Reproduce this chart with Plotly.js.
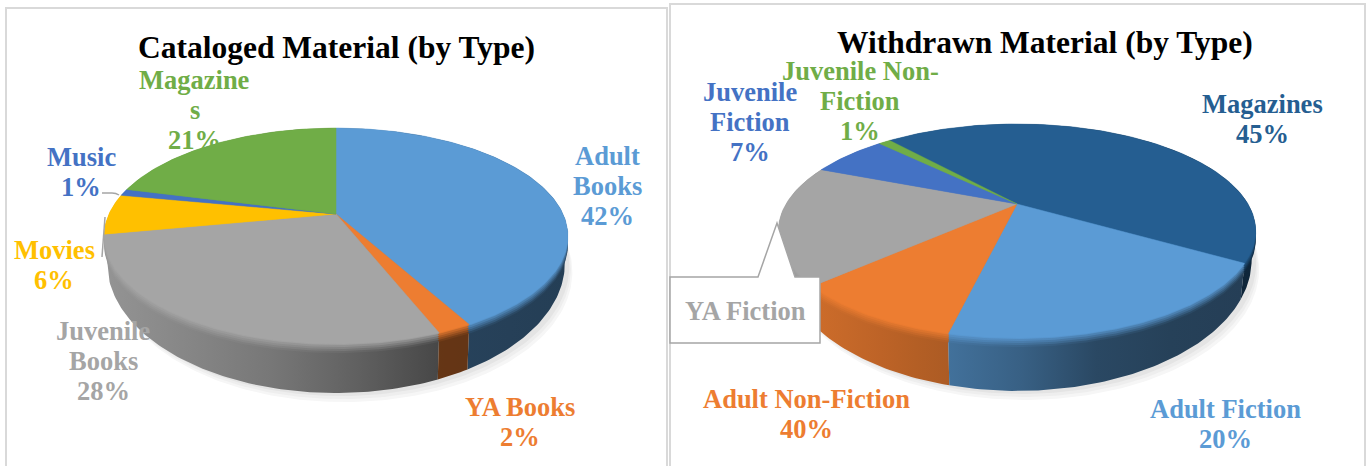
<!DOCTYPE html>
<html>
<head>
<meta charset="utf-8">
<script src="https://cdn.plot.ly/plotly-3.0.1.min.js"></script>
<style>html,body{margin:0;padding:0;background:#fff}#chart{width:1372px;height:466px}</style>
</head>
<body>
<div id="chart"></div>
<script>
// ---- data ----
const catalogedCategories = ["Adult Books", "YA Books", "Juvenile Books", "Movies", "Music", "Magazines"];
const catalogedValues = [42, 2, 28, 6, 1, 21];
const catalogedColors = ["#5b9bd5", "#ed7d31", "#a5a5a5", "#ffc000", "#4472c4", "#70ad47"];

const withdrawnCategories = ["Magazines", "Adult Fiction", "Adult Non-Fiction", "YA Fiction", "Juvenile Fiction", "Juvenile Non-Fiction"];
const withdrawnValues = [45, 20, 9.5, 18, 6.5, 1];
const withdrawnColors = ["#255e91", "#5b9bd5", "#ed7d31", "#a5a5a5", "#4472c4", "#70ad47"];

// ---- 3-D look of each pie (pixel-equal axes) ----
const leftPie = {cx: 336, cy: 214, rx: 227, ry: 103.5, k: 0.204, midY: 236, wallSide: 27, wallGrow: 0.204, wallX: 0.987, start: 0};
const rightPie = {cx: 1017, cy: 204, rx: 231, ry: 100.2, k: 0.252, midY: 231, wallSide: 29, wallGrow: 0.224, wallX: 0.983, start: -41};

const bevelSteps = [9, 7, 5, 3, 1];
const shadeStops = [[0, 0.9], [0.45, 0.68], [0.7, 0.43], [1, 0.4]];

function hex(c) { return [1, 3, 5].map(i => parseInt(c.substr(i, 2), 16)); }
function rgb(a) { return "rgb(" + a.map(v => Math.max(0, Math.min(255, Math.round(v)))).join(",") + ")"; }
function shadeAt(t) {
  t = Math.max(0, Math.min(1, t));
  for (let i = 1; i < shadeStops.length; i++) {
    if (t <= shadeStops[i][0]) {
      const a = shadeStops[i - 1], b = shadeStops[i];
      return a[1] + (b[1] - a[1]) * (t - a[0]) / (b[0] - a[0]);
    }
  }
  return 0.4;
}
function project(p, deg, d) {
  const th = deg * Math.PI / 180, u = Math.sin(th), v = Math.cos(th), w = 1 + p.k * v;
  return [p.cx + p.rx * u / w, p.cy - p.ry * v / w + d];
}
function arc(p, a0, a1, d) {
  const out = [], n = Math.max(2, Math.ceil(Math.abs(a1 - a0)));
  for (let i = 0; i <= n; i++) out.push(project(p, a0 + (a1 - a0) * i / n, d));
  return out;
}
// lower edge of the wall: seen in perspective it is narrower and deeper toward the viewer
function lowerArc(p, a0, a1, extra) {
  return arc(p, a0, a1, 0).map(q => [
    p.cx + (q[0] - p.cx) * p.wallX,
    q[1] + p.wallSide + (q[1] - p.midY) * p.wallGrow + (extra || 0)
  ]);
}
function gradient(p, color, xs, mix) {
  const lo = Math.min(...xs), hi = Math.max(...xs), base = hex(color), hw = 1 / (2 * p.rx * 1.03), left = p.cx - p.rx * 1.03;
  const scale = [0, 0.25, 0.5, 0.75, 1].map(f => {
    const s = shadeAt((lo + (hi - lo) * f - left) * hw), m = 1 - mix * (1 - s);
    return [f, rgb(base.map(c => c * m))];
  });
  return {type: "horizontal", start: lo, stop: hi, colorscale: scale};
}
function polyTrace(pts, name, style) {
  return Object.assign({
    type: "scatter", mode: "lines", name: name, showlegend: false, hoverinfo: "name",
    x: pts.map(q => q[0]), y: pts.map(q => q[1]), fill: "toself",
    line: {width: 0}
  }, style);
}
function pieTraces(p, names, values, colors) {
  const total = values.reduce((a, b) => a + b, 0), sl = [];
  let a = p.start;
  values.forEach((val, i) => {
    const b = a + val / total * 360;
    sl.push({a: a, b: b, name: names[i], color: colors[i]});
    a = b;
  });
  const traces = [];
  // soft ground shadow
  [[9, "#f6f6f6"], [6, "#eeeeee"], [3, "#e4e4e4"]].forEach(s => {
    const ring = lowerArc(p, 0, 360, s[0]).map(q => [q[0] + 3 + s[0] * 0.5, q[1]]);
    traces.push(polyTrace(ring, "shadow", {fillcolor: s[1], hoverinfo: "skip"}));
  });
  // extruded wall, back slices first
  const meanY = s => project(p, (s.a + s.b) / 2, 0)[1];
  sl.slice().sort((m, n) => meanY(m) - meanY(n)).forEach(s => {
    const pts = arc(p, s.a, s.b, 0).concat(lowerArc(p, s.b, s.a));
    traces.push(polyTrace(pts, s.name, {fillgradient: gradient(p, s.color, pts.map(q => q[0]), 1)}));
  });
  // bevel: the face repeated a little lower, fading into the wall colour
  bevelSteps.forEach(d => {
    sl.forEach(s => {
      const pts = [[p.cx, p.cy + d]].concat(arc(p, s.a, s.b, d));
      pts.push(pts[0]);
      traces.push(polyTrace(pts, s.name, {fillgradient: gradient(p, s.color, pts.map(q => q[0]), d / 10)}));
    });
  });
  // top face
  sl.forEach(s => {
    const pts = [[p.cx, p.cy]].concat(arc(p, s.a, s.b, 0));
    pts.push(pts[0]);
    traces.push(polyTrace(pts, s.name, {fillcolor: s.color, line: {width: 0.5, color: s.color}}));
  });
  return traces;
}

const serif = "'Liberation Serif', serif";
function label(x, y, lines, color) {
  return lines.map((t, i) => ({
    x: x, y: y + i * 30, xref: "x", yref: "y", text: "<b>" + t + "</b>", showarrow: false,
    xanchor: "center", yanchor: "middle", font: {family: serif, size: 26.5, color: color, weight: 700}
  }));
}
function title(x, y, text) {
  return {x: x, y: y, xref: "x", yref: "y", text: "<b>" + text + "</b>", showarrow: false, xanchor: "center", yanchor: "middle",
          font: {family: serif, size: 31.5, color: "#000000", weight: 700}};
}

const annotations = [
  title(336, 47, "Cataloged Material (by Type)"),
  title(1045, 42, "Withdrawn Material (by Type)")
].concat(
  label(194.5, 80, ["Magazine", "s", "21%"], "#70ad47"),
  label(81, 157, ["Music", "1%"], "#4472c4"),
  label(54, 250, ["Movies", "6%"], "#ffc000"),
  label(607, 156, ["Adult", "Books", "42%"], "#5b9bd5"),
  label(520, 407, ["YA Books", "2%"], "#ed7d31"),
  label(103, 331, ["Juvenile", "Books", "28%"], "#a5a5a5"),
  label(860, 71, ["Juvenile Non-", "Fiction", "1%"], "#70ad47"),
  label(750, 92, ["Juvenile", "Fiction", "7%"], "#4472c4"),
  label(1262, 104, ["Magazines", "45%"], "#255e91"),
  label(1225, 409, ["Adult Fiction", "20%"], "#5b9bd5"),
  label(806, 399, ["Adult Non-Fiction", "40%"], "#ed7d31"),
  label(745, 311, ["YA Fiction"], "#a5a5a5")
);

const shapes = [
  {type: "rect", layer: "below", xref: "x", yref: "y", x0: 6, x1: 667, y0: 8, y1: 480, line: {color: "#d9d9d9", width: 2}, fillcolor: "#ffffff"},
  {type: "rect", layer: "below", xref: "x", yref: "y", x0: 670, x1: 1365, y0: 4, y1: 480, line: {color: "#d9d9d9", width: 2}, fillcolor: "#ffffff"},
  {type: "path", layer: "above", xref: "x", yref: "y", path: "M 102 193 L 112 193 Q 116 193 119 195", line: {color: "#a5a5a5", width: 1.5}},
  {type: "path", layer: "above", xref: "x", yref: "y", path: "M 105 217 L 102 257", line: {color: "#a5a5a5", width: 1.5}},
  {type: "path", layer: "above", xref: "x", yref: "y",
   path: "M 670 277 L 758 277 L 777 223 L 795 277 L 820 277 L 820 343 L 670 343 Z",
   fillcolor: "#ffffff", line: {color: "#a5a5a5", width: 1.5}}
];

const traces = pieTraces(leftPie, catalogedCategories, catalogedValues, catalogedColors)
  .concat(pieTraces(rightPie, withdrawnCategories, withdrawnValues, withdrawnColors));

Plotly.newPlot("chart", traces, {
  width: 1372, height: 466,
  margin: {l: 0, r: 0, t: 0, b: 0},
  paper_bgcolor: "#ffffff", plot_bgcolor: "#ffffff",
  showlegend: false,
  xaxis: {range: [0, 1372], visible: false, fixedrange: true},
  yaxis: {range: [466, 0], visible: false, fixedrange: true},
  shapes: shapes,
  annotations: annotations
}, {displayModeBar: false, staticPlot: true});
</script>
</body>
</html>
